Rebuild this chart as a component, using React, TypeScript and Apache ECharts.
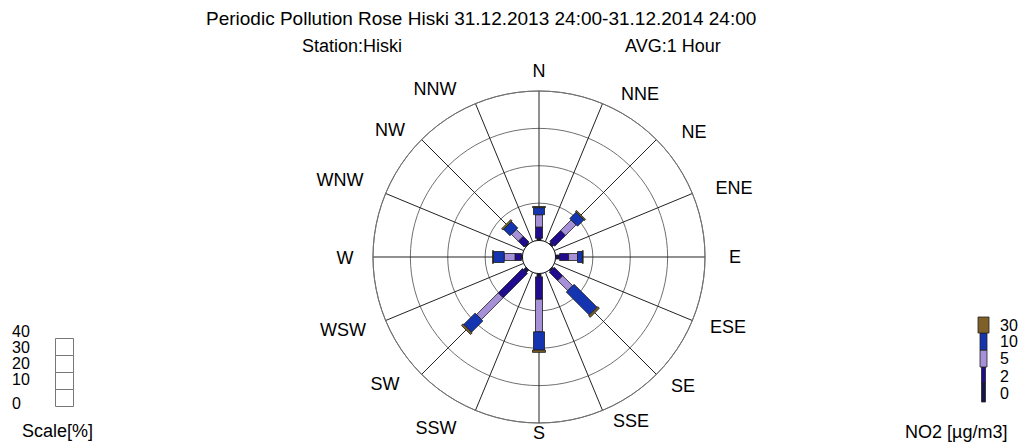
import React, { useEffect, useRef } from "react";
import * as echarts from "echarts";

// ---- data ----
const directionLabels = ["N", "NNE", "NE", "ENE", "E", "ESE", "SE", "SSE", "S", "SSW", "SW", "WSW", "W", "WNW", "NW", "NNW"];
const barDirections = ["N", "NE", "E", "SE", "S", "SW", "W", "NW"];
const barAngles = [0, 45, 90, 135, 180, 225, 270, 315];
const classNames = ["0-2", "2-5", "5-10", "10-30", ">30"];
const legendTicks = ["0", "2", "5", "10", "30"];
const scaleTicks = ["0", "10", "20", "30", "40"];
// frequency [%] of each concentration class per direction (N, NE, E, SE, S, SW, W, NW)
const freq0to2 = [0.6, 0.6, 1.1, 0.4, 0.9, 0.9, 0.3, 0.3];
const freq2to5 = [3.0, 4.1, 2.4, 3.2, 6.0, 9.2, 1.7, 2.2];
const freq5to10 = [3.3, 4.0, 2.4, 3.8, 8.7, 8.2, 2.9, 2.6];
const freq10to30 = [1.9, 2.4, 1.3, 8.7, 4.9, 4.3, 2.9, 2.4];
const freqOver30 = [0.3, 0.4, 0.2, 0.6, 0.6, 0.6, 0.2, 0.5];

// ---- styles / layout ----
const classColors = ["#14144e", "#200c8c", "#a690d8", "#1535b0", "#7e6028"];
const classBarWidths = [4, 7, 7, 11, 13];
const FONT = "Liberation Sans, Arial, sans-serif";
const CX = 539;
const CY = 257;
const labelPos: Record<string, [number, number]> = {
  N: [539, 71], NNE: [640, 94], NE: [694, 132], ENE: [734, 188], E: [735, 257], ESE: [728, 327],
  SE: [683, 386], SSE: [631, 421], S: [539, 433], SSW: [436, 428], SW: [385, 384], WSW: [343, 330],
  W: [345, 258], WNW: [340, 180], NW: [390, 130], NNW: [435, 89],
};

export default function App() {
  const ref = useRef<HTMLDivElement>(null);
  useEffect(() => {
    if (!ref.current) return;
    const chart = echarts.init(ref.current, null, { renderer: "svg" });
    const classes = [freq0to2, freq2to5, freq5to10, freq10to30, freqOver30];
    const cum = barAngles.map(() => 0);
    const series: any[] = classes.map((arr, ci) => {
      const data = arr.map((v, i) => {
        const start = cum[i];
        cum[i] += v;
        return [cum[i], barAngles[i], start, barDirections[i]];
      });
      const w = classBarWidths[ci];
      const color = classColors[ci];
      return {
        type: "custom",
        name: classNames[ci],
        coordinateSystem: "polar",
        z: 5,
        data,
        renderItem: (params: any, api: any) => {
          const rEnd = api.value(0);
          const ang = api.value(1);
          const rStart = api.value(2);
          const p0 = api.coord([rStart, ang]);
          const p1 = api.coord([rEnd, ang]);
          const dx = p1[0] - p0[0];
          const dy = p1[1] - p0[1];
          const len = Math.hypot(dx, dy);
          if (len < 0.01) return null;
          const nx = -dy / len;
          const ny = dx / len;
          const h = w / 2;
          return {
            type: "polygon",
            shape: {
              points: [
                [p0[0] + nx * h, p0[1] + ny * h],
                [p1[0] + nx * h, p1[1] + ny * h],
                [p1[0] - nx * h, p1[1] - ny * h],
                [p0[0] - nx * h, p0[1] - ny * h],
              ],
            },
            style: { fill: color, stroke: "#1a1a1a", lineWidth: 0.8 },
          };
        },
      };
    });
    // calm circle
    series.push({
      type: "custom",
      coordinateSystem: "polar",
      z: 4,
      data: [[0, 0]],
      renderItem: (params: any) => {
        const cs = params.coordSys;
        return {
          type: "circle",
          shape: { cx: cs.cx, cy: cs.cy, r: cs.r0 },
          style: { fill: "#ffffff", stroke: "#222222", lineWidth: 1 },
        };
      },
    });

    const texts: any[] = [];
    const t = (text: string, x: number, y: number, align = "left", size = 18) =>
      texts.push({
        type: "text",
        x,
        y,
        style: { text, fill: "#000", font: `${size}px ${FONT}`, align, verticalAlign: "middle" },
      });
    t("Periodic Pollution Rose Hiski 31.12.2013 24:00-31.12.2014 24:00", 206, 18, "left", 19);
    t("Station:Hiski", 302, 46);
    t("AVG:1 Hour", 625, 46);
    directionLabels.forEach((d) => t(d, labelPos[d][0], labelPos[d][1], "center"));
    // left scale
    const scaleY = [403, 379, 363, 347, 331];
    scaleTicks.forEach((s, i) => t(s, 12, scaleY[i], "left", 16));
    t("Scale[%]", 22, 431);
    const scaleBoxes = [0, 1, 2, 3].map((i) => ({
      type: "rect",
      shape: { x: 55.5, y: 338.5 + i * 17, width: 18, height: 17 },
      style: { fill: "#fff", stroke: "#777", lineWidth: 1 },
    }));
    // right legend
    const legY = [383, 367, 350, 333, 317];
    const legH = [19, 16, 17, 17, 16];
    const legW = [4, 4, 7, 7, 11];
    const legendRects = classColors.map((c, i) => ({
      type: "rect",
      shape: { x: 983.5 - legW[i] / 2, y: legY[i], width: legW[i], height: legH[i] },
      style: { fill: c, stroke: "#222", lineWidth: 0.8 },
    }));
    const legTextY = [393, 376, 358, 341, 325];
    legendTicks.forEach((s, i) => t(s, 1000, legTextY[i], "left", 16));
    t("NO2 [µg/m3]", 905, 432);

    chart.setOption({
      animation: false,
      backgroundColor: "#ffffff",
      polar: { center: [CX, CY], radius: [16.5, 166] },
      radiusAxis: {
        type: "value",
        min: 0,
        max: 40,
        interval: 10,
        axisLine: { show: false },
        axisTick: { show: false },
        axisLabel: { show: false },
        splitLine: { show: true, lineStyle: { color: "#707070", width: 1 } },
      },
      angleAxis: {
        type: "value",
        min: 0,
        max: 360,
        interval: 22.5,
        startAngle: 90,
        clockwise: true,
        axisLine: { show: true, lineStyle: { color: "#707070", width: 1 } },
        axisTick: { show: false },
        axisLabel: { show: false },
        splitLine: { show: true, lineStyle: { color: "#222222", width: 1 } },
      },
      graphic: [...scaleBoxes, ...legendRects, ...texts],
      series,
    });
    return () => chart.dispose();
  }, []);
  return <div ref={ref} style={{ position: "fixed", left: 0, top: 0, width: 1028, height: 442 }} />;
}
